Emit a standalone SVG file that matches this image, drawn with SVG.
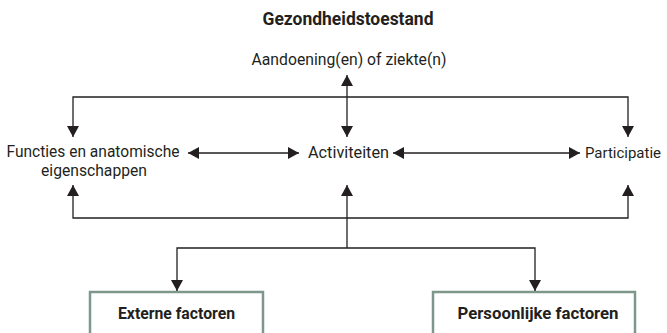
<svg xmlns="http://www.w3.org/2000/svg" width="667" height="333" viewBox="0 0 667 333">
<style>
text{font-family:"Roboto","Open Sans","DejaVu Sans",sans-serif;fill:#231f20;font-size:16.5px}
.b{font-weight:bold}
.t{font-size:18px}
.c{fill:none;stroke:#231f20;stroke-width:1.3}
.box{fill:#fff;stroke:#7d978a;stroke-width:2.5}
</style>
<defs>
<marker id="a" viewBox="0 0 12 12" refX="11" refY="6" markerWidth="12" markerHeight="12" markerUnits="userSpaceOnUse" orient="auto-start-reverse">
<path d="M0,0 L11,6 L0,12 Z" fill="#231f20"/>
</marker>
</defs>
<rect width="667" height="333" fill="#fff"/>
<g id="title"><text class="b t" x="348" y="25" text-anchor="middle" textLength="171" lengthAdjust="spacingAndGlyphs">Gezondheidstoestand</text></g>
<g id="aandoening"><text x="349" y="65" text-anchor="middle" textLength="195" lengthAdjust="spacingAndGlyphs">Aandoening(en) of ziekte(n)</text></g>
<g id="functies">
<text x="93" y="157" text-anchor="middle" textLength="173" lengthAdjust="spacingAndGlyphs">Functies en anatomische</text>
<text x="94" y="176" text-anchor="middle" textLength="106" lengthAdjust="spacingAndGlyphs">eigenschappen</text>
</g>
<g id="activiteiten"><text x="348.5" y="158" text-anchor="middle" textLength="81" lengthAdjust="spacingAndGlyphs">Activiteiten</text></g>
<g id="participatie"><text x="623" y="158" text-anchor="middle" style="font-size:15.5px" textLength="76" lengthAdjust="spacingAndGlyphs">Participatie</text></g>
<g id="externe">
<rect class="box" x="90" y="292" width="173" height="50"/>
<text class="b" x="176.5" y="319" text-anchor="middle" textLength="117" lengthAdjust="spacingAndGlyphs">Externe factoren</text>
</g>
<g id="persoonlijke">
<rect class="box" x="433" y="292" width="202" height="50"/>
<text class="b" x="538" y="319" text-anchor="middle" textLength="161" lengthAdjust="spacingAndGlyphs">Persoonlijke factoren</text>
</g>
<g id="connectors">
<line class="c" x1="347" y1="75" x2="347" y2="137" marker-start="url(#a)" marker-end="url(#a)"/>
<polyline class="c" points="73,137 73,97 628,97 628,137" marker-start="url(#a)" marker-end="url(#a)"/>
<polyline class="c" points="73,185 73,218 628,218 628,185" marker-start="url(#a)" marker-end="url(#a)"/>
<line class="c" x1="347" y1="185" x2="347" y2="248" marker-start="url(#a)"/>
<polyline class="c" points="177,291 177,248 535,248 535,291" marker-start="url(#a)" marker-end="url(#a)"/>
<line class="c" x1="188" y1="153" x2="299" y2="153" marker-start="url(#a)" marker-end="url(#a)"/>
<line class="c" x1="393" y1="153" x2="580" y2="153" marker-start="url(#a)" marker-end="url(#a)"/>
</g>
</svg>
